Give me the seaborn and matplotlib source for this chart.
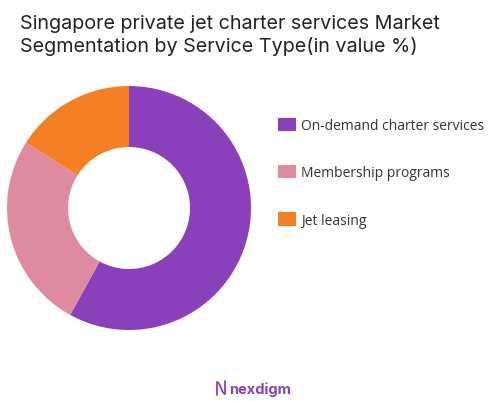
"""
service type donut : Singapore private jet charter market split by service type
"""

import numpy as np
import seaborn as sns
import matplotlib.pyplot as plt

segments = ["On-demand charter services", "Membership programs", "Jet leasing"]
shares = [58, 26, 16]
colors = ["#8A40BA", "#DE8AA0", "#F47F24"]
title = "Singapore private jet charter services Market\nSegmentation by Service Type(in value %)"

W, H = 504, 402

sns.set_theme(style="white")
plt.rcParams['font.family'] = ['Inter', 'DejaVu Sans']

fig = plt.figure(figsize=(W / 100, H / 100), dpi=100)
fig.patch.set_facecolor("white")

# donut centre (129, 209) px, outer radius 122 px
cx, cy, r = 129, 209, 122
ax = fig.add_axes([(cx - r) / W, (H - cy - r) / H, 2 * r / W, 2 * r / H])
wedges, _ = ax.pie(shares, colors=colors, startangle=90, counterclock=False,
                   wedgeprops=dict(width=0.5, edgecolor="none"), radius=1)
ax.set_xlim(-1, 1)
ax.set_ylim(-1, 1)
ax.set_aspect("equal")
ax.axis("off")

fig.text(20 / W, 1 - 15 / H, title, ha="left", va="top", fontsize=14.2,
         color="#222222", linespacing=1.25, family=['Inter', 'DejaVu Sans'])

leg = fig.legend(wedges, segments, loc="upper left",
                 bbox_to_anchor=(272 / W, 1 - 113 / H), frameon=False,
                 prop=dict(family=['Open Sans', 'DejaVu Sans'], size=10),
                 handlelength=1.3, handleheight=1.1, handletextpad=0.4,
                 labelspacing=2.3, borderaxespad=0)
for t in leg.get_texts():
    t.set_color("#333333")

# logo mark (wavy N) + wordmark
t = np.linspace(0, 1, 60)
mx = 217 + 8 * t
my = 389 - 6 * np.cos(np.pi * t)
fig.add_artist(plt.Line2D(np.r_[217, mx, 225] / W, 1 - np.r_[396, my, 382] / H,
                          color="#8A40BA", lw=1.3, transform=fig.transFigure))
fig.text(229 / W, 1 - 390 / H, "nexdigm", ha="left", va="center", fontsize=10.5,
         fontweight="bold", color="#8A40BA", family=['Inter', 'DejaVu Sans'])

fig.savefig("out.png", dpi=100, facecolor="white")
